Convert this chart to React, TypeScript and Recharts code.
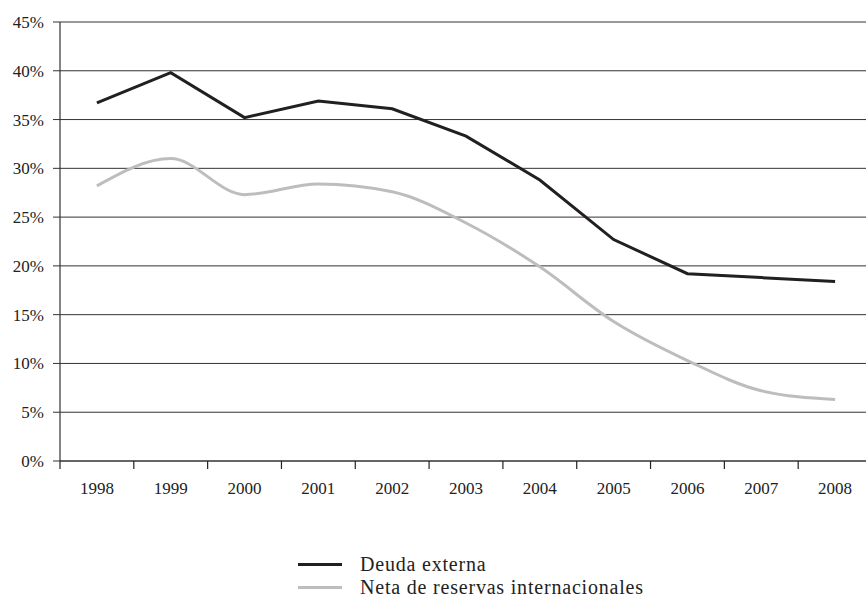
import { CartesianGrid, Legend, Line, LineChart, XAxis, YAxis } from 'recharts'

const years = ['1998', '1999', '2000', '2001', '2002', '2003', '2004', '2005', '2006', '2007', '2008']
const deudaExterna = [36.7, 39.8, 35.2, 36.9, 36.1, 33.3, 28.8, 22.7, 19.2, 18.8, 18.4]
const netaReservas = [28.2, 31.0, 27.3, 28.4, 27.6, 24.4, 19.9, 14.3, 10.3, 7.2, 6.3]
const yTicks = [0, 5, 10, 15, 20, 25, 30, 35, 40, 45]

const seriesNames = ['Deuda externa', 'Neta de reservas internacionales']
const seriesColors = ['#231f20', '#bdbdbd']

const data = years.map((year, i) => ({
  year,
  deuda: deudaExterna[i],
  neta: netaReservas[i],
}))

const W = 880
const H = 597
const margin = { top: 22, right: 8, left: 0, bottom: 106 }
const yAxisWidth = 60
const bandWidth = (W - margin.left - margin.right - yAxisWidth) / years.length

const TICK_SIZE = 8
const TICK_MARGIN = 13

const YearTick = (props: any) => {
  const { x, y, payload } = props
  const axisY = y - TICK_SIZE - TICK_MARGIN
  const edge = x - bandWidth / 2
  return (
    <g>
      <line x1={edge} y1={axisY} x2={edge} y2={axisY + TICK_SIZE} stroke="#222" strokeWidth={1.2} />
      <text x={x} y={y} dy="0.71em" textAnchor="middle" fill="#222" fontSize={17}>
        {payload.value}
      </text>
    </g>
  )
}

const LegendBox = () => (
  <div style={{ fontFamily: '"Liberation Serif", serif', fontSize: 20, color: '#222' }}>
    {seriesNames.map((name, i) => (
      <div key={name} style={{ display: 'flex', alignItems: 'center', height: 23 }}>
        <span
          style={{
            display: 'inline-block',
            width: 44,
            height: 3,
            background: seriesColors[i],
            marginRight: 18,
          }}
        />
        <span style={{ letterSpacing: 0.8 }}>{name}</span>
      </div>
    ))}
  </div>
)

const App = () => {
  return (
    <div
      style={{
        position: 'fixed',
        left: 0,
        top: 0,
        width: 866,
        height: 597,
        overflow: 'hidden',
        background: '#fff',
        fontFamily: '"Liberation Serif", serif',
      }}
    >
      <LineChart width={W} height={H} data={data} margin={margin}>
        <CartesianGrid vertical={false} stroke="#333" strokeWidth={1} />
        <XAxis
          dataKey="year"
          scale="band"
          height={30}
          tickSize={TICK_SIZE}
          tickMargin={TICK_MARGIN}
          tickLine={false}
          axisLine={{ stroke: '#333', strokeWidth: 1.2 }}
          tick={<YearTick />}
          interval={0}
        />
        <YAxis
          width={yAxisWidth}
          domain={[0, 45]}
          ticks={yTicks}
          interval={0}
          tickSize={7}
          tickMargin={9}
          tickFormatter={(v: number) => `${v}%`}
          tick={{ fill: '#222', fontSize: 17 }}
          tickLine={{ stroke: '#333' }}
          axisLine={{ stroke: '#333', strokeWidth: 1.2 }}
        />
        <Legend
          verticalAlign="middle"
          align="center"
          layout="horizontal"
          wrapperStyle={{ top: 553, left: 298, width: 400, height: 46 }}
          content={<LegendBox />}
        />
        <Line
          type="monotone"
          dataKey="neta"
          name={seriesNames[1]}
          stroke={seriesColors[1]}
          strokeWidth={3}
          dot={false}
          activeDot={false}
          isAnimationActive={false}
        />
        <Line
          type="linear"
          dataKey="deuda"
          name={seriesNames[0]}
          stroke={seriesColors[0]}
          strokeWidth={3}
          dot={false}
          activeDot={false}
          isAnimationActive={false}
        />
      </LineChart>
    </div>
  )
}

export default App
